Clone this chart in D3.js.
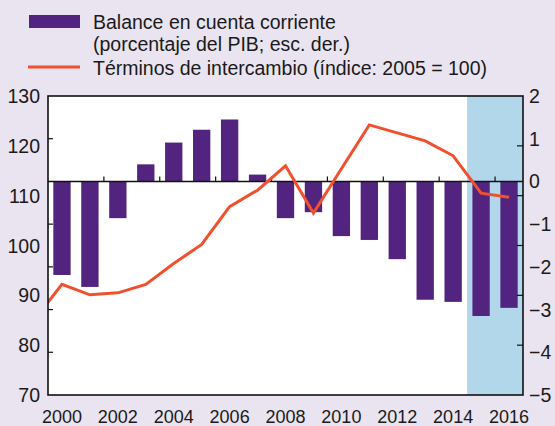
<!DOCTYPE html>
<html>
<head>
<meta charset="utf-8">
<script src="https://cdn.jsdelivr.net/npm/d3@7"></script>
<style>
  html, body { margin: 0; padding: 0; background: #e9e4f0; }
  svg { display: block; }
  text { font-family: "Liberation Sans", Arial, sans-serif; fill: #1a1a1a; }
</style>
</head>
<body>
<svg id="chart" width="555" height="426"></svg>
<script>
// ---- data ----
const years = [2000,2001,2002,2003,2004,2005,2006,2007,2008,2009,2010,2011,2012,2013,2014,2015,2016];
const balance = [-2.19,-2.47,-0.86,0.40,0.91,1.21,1.45,0.16,-0.86,-0.72,-1.28,-1.37,-1.82,-2.77,-2.82,-3.15,-2.96];
const termsYears = [1999,2000,2001,2002,2003,2004,2005,2006,2007,2008,2009,2010,2011,2012,2013,2014,2015,2016];
const terms = [85.0,92.2,90.1,90.5,92.2,96.4,100.2,107.8,111.1,116.0,106.5,115.4,124.2,122.6,121.0,118.0,110.5,109.7];
const leftTicks = [130,120,110,100,90,80,70];
const rightTicks = [2,1,0,-1,-2,-3,-4,-5];
const xLabels = [2000,2002,2004,2006,2008,2010,2012,2014,2016];
const shadeFrom = 2015;
const legendItems = ["Balance en cuenta corriente", "(porcentaje del PIB; esc. der.)", "Términos de intercambio (índice: 2005 = 100)"];

// ---- layout ----
const L = 48, R = 523, T = 96, B = 395;
const barColor = "#52247f", lineColor = "#f0502e", shadeColor = "#b3d7ea";
const svg = d3.select("#chart");

const xBand = d3.scaleBand().domain(years).range([L, R]).paddingInner(0.38).paddingOuter(0.19);
const xLin = d3.scaleLinear().domain([years[0] - 0.5, years[years.length - 1] + 0.5]).range([L, R]);
const yL = d3.scaleLinear().domain([70, 130]).range([B, T]);
const yR = d3.scaleLinear().domain([-5, 2]).range([B, T]);

// plot background
svg.append("rect").attr("x", L).attr("y", T).attr("width", R - L).attr("height", B - T).attr("fill", "#fff");
// shaded forecast region
svg.append("rect").attr("x", xLin(shadeFrom - 0.5)).attr("y", T)
  .attr("width", R - xLin(shadeFrom - 0.5)).attr("height", B - T).attr("fill", shadeColor);

// bars
svg.append("g").selectAll("rect").data(years).join("rect")
  .attr("x", d => xBand(d))
  .attr("width", xBand.bandwidth())
  .attr("y", (d, i) => yR(Math.max(0, balance[i])))
  .attr("height", (d, i) => Math.abs(yR(balance[i]) - yR(0)))
  .attr("fill", barColor);

// zero line
svg.append("line").attr("x1", L).attr("x2", R).attr("y1", yR(0)).attr("y2", yR(0))
  .attr("stroke", "#111").attr("stroke-width", 1.5);
// small ticks on zero line at 2-year boundaries
const zeroTicks = d3.range(years[0] + 1.5, years[years.length - 1], 2);
svg.append("g").selectAll("line").data(zeroTicks).join("line")
  .attr("x1", d => xLin(d)).attr("x2", d => xLin(d))
  .attr("y1", yR(0)).attr("y2", yR(0) - 5)
  .attr("stroke", "#111").attr("stroke-width", 1.2);

// line (clipped)
svg.append("clipPath").attr("id", "clip").append("rect")
  .attr("x", L).attr("y", T).attr("width", R - L).attr("height", B - T);
const line = d3.line().x((d, i) => xLin(termsYears[i])).y(d => yL(d));
svg.append("path").datum(terms).attr("d", line).attr("clip-path", "url(#clip)")
  .attr("fill", "none").attr("stroke", lineColor).attr("stroke-width", 3).attr("stroke-linejoin", "miter");

// frame
svg.append("rect").attr("x", L).attr("y", T).attr("width", R - L).attr("height", B - T)
  .attr("fill", "none").attr("stroke", "#111").attr("stroke-width", 1.6);

// left axis line: inward ticks (at right-scale positions)
svg.append("g").selectAll("line").data(rightTicks.filter(d => d < 2 && d > -5 && d !== 0)).join("line")
  .attr("x1", L).attr("x2", L + 5).attr("y1", d => yR(d)).attr("y2", d => yR(d))
  .attr("stroke", "#111").attr("stroke-width", 1.2);
// right axis line: inward ticks (at left-scale positions)
svg.append("g").selectAll("line").data(leftTicks.filter(d => d < 130 && d > 70)).join("line")
  .attr("x1", R).attr("x2", R - 6).attr("y1", d => yL(d)).attr("y2", d => yL(d))
  .attr("stroke", "#111").attr("stroke-width", 1.2);

// left labels
svg.append("g").selectAll("text").data(leftTicks).join("text")
  .attr("x", 40).attr("y", d => yL(d)).attr("dy", "0.36em")
  .attr("text-anchor", "end").attr("font-size", 19.5).text(d => d);
// right labels
svg.append("g").selectAll("text").data(rightTicks).join("text")
  .attr("x", 529).attr("y", d => yR(d)).attr("dy", "0.36em")
  .attr("text-anchor", "start").attr("font-size", 19.5)
  .text(d => d < 0 ? "\u2212" + Math.abs(d) : d);
// bottom labels
svg.append("g").selectAll("text").data(xLabels).join("text")
  .attr("x", d => xLin(d)).attr("y", 423)
  .attr("text-anchor", "middle").attr("font-size", 18).text(d => d);

// legend
svg.append("rect").attr("x", 29).attr("y", 15).attr("width", 51).attr("height", 13).attr("fill", barColor);
svg.append("line").attr("x1", 28).attr("x2", 80).attr("y1", 67).attr("y2", 67)
  .attr("stroke", lineColor).attr("stroke-width", 3);
const legY = [22, 44, 68];
svg.append("g").selectAll("text").data(legendItems).join("text")
  .attr("x", 93).attr("y", (d, i) => legY[i]).attr("dy", "0.36em")
  .attr("font-size", 19.5).text(d => d);
</script>
</body>
</html>
